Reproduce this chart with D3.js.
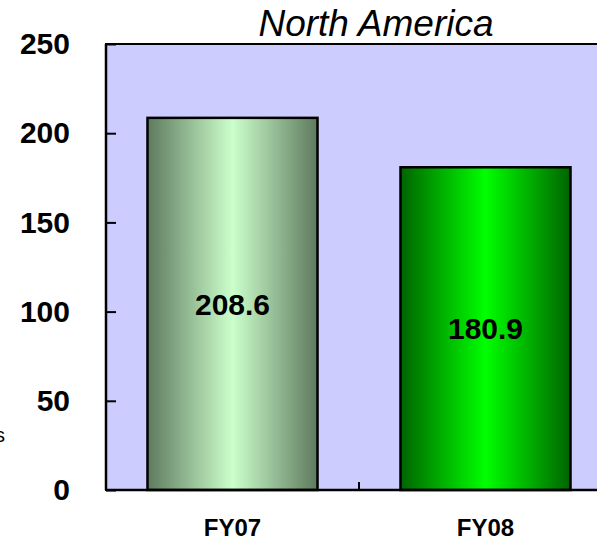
<!DOCTYPE html>
<html>
<head>
<meta charset="utf-8">
<script src="https://cdn.jsdelivr.net/npm/d3@7"></script>
<style>
  html, body { margin: 0; padding: 0; background: #fff; overflow: hidden; }
  svg { display: block; font-family: "Liberation Sans", Arial, sans-serif; }
</style>
</head>
<body>
<svg id="chart" width="597" height="540"></svg>
<script>
// Chart data
const categories = ["FY07", "FY08"];
const values = [208.6, 180.9];
const yTicks = [0, 50, 100, 150, 200, 250];
const title = "North America";
const axisTitle = "s";

// Bar fills: dark edge colour and light centre colour per bar
const edgeColors = ["#5e7a5e", "#006400"];
const centerColors = ["#ccffcc", "#00ff00"];

const svg = d3.select("#chart");
const plot = { left: 106, top: 44, right: 612, bottom: 490 };

const x = d3.scaleBand()
  .domain(categories)
  .range([plot.left, plot.right])
  .paddingInner(0)
  .paddingOuter(0);

const y = d3.scaleLinear()
  .domain([0, 250])
  .range([plot.bottom, plot.top]);

const barWidth = x.bandwidth() * 0.672;

// Gradients: dark at the sides, light in the middle
const defs = svg.append("defs");
categories.forEach((c, i) => {
  const g = defs.append("linearGradient")
    .attr("id", "grad" + i)
    .attr("x1", "0%").attr("x2", "100%")
    .attr("y1", "0%").attr("y2", "0%");
  g.append("stop").attr("offset", "0%").attr("stop-color", edgeColors[i]);
  g.append("stop").attr("offset", "50%").attr("stop-color", centerColors[i]);
  g.append("stop").attr("offset", "100%").attr("stop-color", edgeColors[i]);
});

// Plot background
svg.append("rect")
  .attr("x", plot.left).attr("y", plot.top)
  .attr("width", plot.right - plot.left)
  .attr("height", plot.bottom - plot.top)
  .attr("fill", "#ccccff")
  .attr("stroke", "#000")
  .attr("stroke-width", 2);

// Y axis with inward ticks
const yAxis = svg.append("g")
  .attr("transform", `translate(${plot.left},0)`)
  .call(d3.axisLeft(y)
    .tickValues(yTicks)
    .tickSizeInner(-10)
    .tickSizeOuter(0)
    .tickPadding(36));
yAxis.select(".domain").remove();
yAxis.selectAll(".tick line").attr("stroke", "#000").attr("stroke-width", 2);
yAxis.selectAll(".tick text")
  .attr("font-family", "Liberation Sans, Arial, sans-serif")
  .attr("font-size", 30)
  .attr("font-weight", "bold")
  .attr("fill", "#000");

// Bars
svg.selectAll("rect.bar")
  .data(categories)
  .join("rect")
  .attr("class", "bar")
  .attr("x", d => x(d) + (x.bandwidth() - barWidth) / 2)
  .attr("y", (d, i) => y(values[i]))
  .attr("width", barWidth)
  .attr("height", (d, i) => y(0) - y(values[i]))
  .attr("fill", (d, i) => `url(#grad${i})`)
  .attr("stroke", "#000")
  .attr("stroke-width", 2.5);

// Value labels, centred in each bar
svg.selectAll("text.value")
  .data(categories)
  .join("text")
  .attr("class", "value")
  .attr("x", d => x(d) + x.bandwidth() / 2)
  .attr("y", (d, i) => (y(values[i]) + y(0)) / 2)
  .attr("dy", "0.36em")
  .attr("text-anchor", "middle")
  .attr("font-size", 30)
  .attr("font-weight", "bold")
  .attr("fill", "#000")
  .text((d, i) => values[i].toFixed(1));

// X axis: category labels, with a tick between the categories
const xAxis = svg.append("g")
  .attr("transform", `translate(0,${plot.bottom})`)
  .call(d3.axisBottom(x).tickSize(0).tickPadding(29));
xAxis.select(".domain").remove();
xAxis.selectAll(".tick text")
  .attr("font-family", "Liberation Sans, Arial, sans-serif")
  .attr("font-size", 24)
  .attr("font-weight", "bold")
  .attr("fill", "#000");

svg.selectAll("line.xdiv")
  .data(categories.slice(1))
  .join("line")
  .attr("class", "xdiv")
  .attr("x1", d => x(d)).attr("x2", d => x(d))
  .attr("y1", plot.bottom).attr("y2", plot.bottom - 8)
  .attr("stroke", "#000")
  .attr("stroke-width", 2);

// Frame lines on top of the bars
svg.append("line")
  .attr("x1", plot.left).attr("x2", plot.right)
  .attr("y1", plot.bottom).attr("y2", plot.bottom)
  .attr("stroke", "#000").attr("stroke-width", 2.5);
svg.append("line")
  .attr("x1", plot.left).attr("x2", plot.left)
  .attr("y1", plot.top).attr("y2", plot.bottom)
  .attr("stroke", "#000").attr("stroke-width", 2.5);

// Title
svg.append("text")
  .attr("x", 376)
  .attr("y", 36)
  .attr("text-anchor", "middle")
  .attr("font-size", 37)
  .attr("font-style", "italic")
  .attr("fill", "#000")
  .text(title);

// Axis title (mostly outside the left edge)
svg.append("text")
  .attr("x", 5)
  .attr("y", 442)
  .attr("text-anchor", "end")
  .attr("font-size", 20)
  .attr("fill", "#000")
  .text(axisTitle);
</script>
</body>
</html>
